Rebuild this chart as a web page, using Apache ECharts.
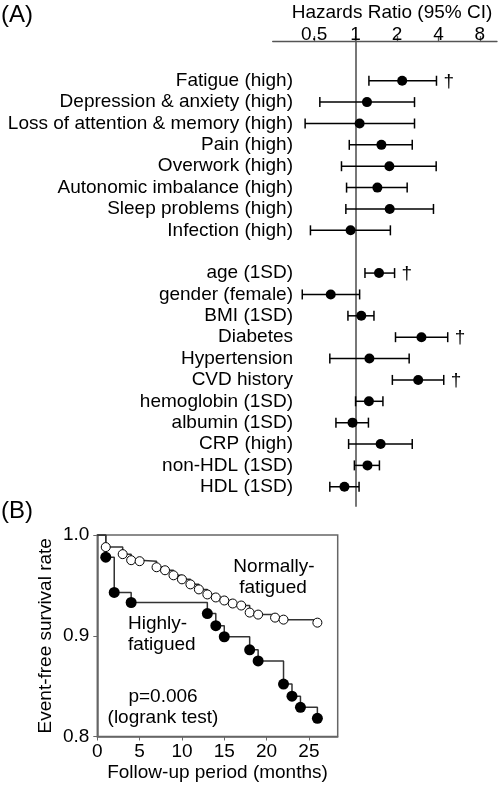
<!DOCTYPE html>
<html><head><meta charset="utf-8">
<script src="https://cdn.jsdelivr.net/npm/echarts@6/dist/echarts.min.js"></script>
<style>html,body{margin:0;padding:0;background:#fff}#c{width:500px;height:785px}</style>
</head><body><div id="c"></div>
<script>
// ---- Panel A: hazards ratios ----
const factors = ['Fatigue (high)','Depression & anxiety (high)','Loss of attention & memory (high)','Pain (high)','Overwork (high)','Autonomic imbalance (high)','Sleep problems (high)','Infection (high)','','age (1SD)','gender (female)','BMI (1SD)','Diabetes','Hypertension','CVD history','hemoglobin (1SD)','albumin (1SD)','CRP (high)','non-HDL (1SD)','HDL (1SD)'];
const hrPoint = [2.18,1.21,1.07,1.54,1.76,1.44,1.77,0.92,null,1.48,0.66,1.10,3.01,1.26,2.85,1.25,0.95,1.52,1.22,0.83];
const hrLower = [1.25,0.55,0.43,0.90,0.79,0.86,0.85,0.47,null,1.17,0.41,0.88,1.95,0.65,1.85,1.00,0.72,0.89,0.98,0.65];
const hrUpper = [3.87,2.68,2.68,2.58,3.85,2.37,3.68,1.79,null,1.92,1.07,1.36,4.67,2.45,4.37,1.58,1.24,2.58,1.49,1.06];
const significance = ['†','','','','','','','','','†','','','†','','†','','','','',''];
const hrTicks = [0.5,1,2,4,8];
const hrAxisMin = 0.25, hrAxisMax = 10.65;

// ---- Panel B: Kaplan-Meier ----
const normalMonths = [0,1,3,4,5,7,8,9,10,11,12,13,14,15,16,17,18,19,21,22,26];
const normalSurvival = [1.0,0.988,0.981,0.975,0.974,0.968,0.965,0.960,0.956,0.951,0.946,0.941,0.938,0.935,0.932,0.930,0.923,0.921,0.918,0.916,0.913];
const highMonths = [0,1,2,4,13,14,15,18,19,22,23,24,26];
const highSurvival = [1.0,0.978,0.943,0.933,0.922,0.910,0.899,0.886,0.875,0.852,0.840,0.829,0.818];
const monthTicks = [0,5,10,15,20,25];

const FONT = '"Liberation Sans", Arial, Helvetica, sans-serif';
const chart = echarts.init(document.getElementById('c'), null, {renderer:'canvas'});

const rowIdx = factors.map((f,i)=>i).filter(i=>hrPoint[i]!=null);
const barData = rowIdx.map(i=>[i, Math.log2(hrLower[i]), Math.log2(hrUpper[i])]);
const pointData = rowIdx.map(i=>[Math.log2(hrPoint[i]), i]);

function kmData(ms, ss){
  return ms.map((m,i)=> i===0 ? {value:[m,ss[i]], symbol:'none'} : [m,ss[i]]);
}

const option = {
  animation:false,
  textStyle:{fontFamily:FONT},
  grid:[
    {left:272.7, right:3, top:41, bottom:279, containLabel:false, outerBoundsMode:'none'},
    {left:97.3, right:162.3, top:535, bottom:48.5, show:true, borderColor:'#666', borderWidth:1.5, containLabel:false, outerBoundsMode:'none'}
  ],
  xAxis:[
    {type:'value', gridIndex:0, position:'top', min:Math.log2(hrAxisMin), max:Math.log2(hrAxisMax),
     axisLine:{onZero:false, lineStyle:{color:'#555', width:1.3}},
     axisTick:{customValues:hrTicks.map(Math.log2), length:5, lineStyle:{color:'#555', width:1.3}},
     axisLabel:{customValues:hrTicks.map(Math.log2), formatter:v=>String(+Math.pow(2,v).toFixed(2)), fontSize:19, color:'#000', margin:-3, fontFamily:FONT},
     splitLine:{show:false}},
    {type:'value', gridIndex:1, min:0, max:28.4,
     axisLine:{onZero:false, lineStyle:{color:'#666', width:1.5}},
     axisTick:{customValues:monthTicks, length:4, lineStyle:{color:'#666'}},
     axisLabel:{customValues:monthTicks, fontSize:19, color:'#000', margin:6, fontFamily:FONT},
     splitLine:{show:false},
     name:'Follow-up period (months)', nameLocation:'middle', nameGap:27,
     nameTextStyle:{fontSize:19, color:'#000', fontFamily:FONT}}
  ],
  yAxis:[
    {type:'value', gridIndex:0, inverse:true, min:-1.86, max:19.9,
     axisLine:{show:true, onZero:true, lineStyle:{color:'#777', width:2}},
     axisTick:{show:false},
     axisLabel:{customValues:rowIdx, formatter:v=>factors[Math.round(v)], fontSize:19, color:'#000', margin:-20.3, fontFamily:FONT},
     splitLine:{show:false}},
    {type:'value', gridIndex:1, min:0.8, max:1.0, interval:0.1,
     axisLine:{show:true, onZero:false, lineStyle:{color:'#666', width:1.5}},
     axisTick:{show:true, length:4, lineStyle:{color:'#666'}},
     axisLabel:{formatter:v=>v.toFixed(1), fontSize:19, color:'#000', margin:8, fontFamily:FONT},
     splitLine:{show:false},
     name:'Event-free survival rate', nameLocation:'middle', nameGap:42,
     nameTextStyle:{fontSize:19, color:'#000', fontFamily:FONT}}
  ],
  series:[
    {type:'custom', xAxisIndex:0, yAxisIndex:0, data:barData, encode:{x:[1,2], y:0},
     renderItem:function(params, api){
       const row = api.value(0);
       const p1 = api.coord([api.value(1), row]);
       const p2 = api.coord([api.value(2), row]);
       const h = 5, st = {stroke:'#000', lineWidth:1.5};
       const ch = [
         {type:'line', shape:{x1:p1[0],y1:p1[1],x2:p2[0],y2:p2[1]}, style:st},
         {type:'line', shape:{x1:p1[0],y1:p1[1]-h,x2:p1[0],y2:p1[1]+h}, style:st},
         {type:'line', shape:{x1:p2[0],y1:p2[1]-h,x2:p2[0],y2:p2[1]+h}, style:st}
       ];
       const s = significance[row];
       if (s) ch.push({type:'text', x:p2[0]+7, y:p2[1]+1, style:{text:s, fontSize:19, fill:'#000', align:'left', verticalAlign:'middle', fontFamily:FONT}});
       return {type:'group', children:ch};
     }},
    {type:'scatter', xAxisIndex:0, yAxisIndex:0, data:pointData, symbol:'circle', symbolSize:10,
     itemStyle:{color:'#000', opacity:1}, z:5},
    {type:'line', xAxisIndex:1, yAxisIndex:1, step:'end', data:kmData(highMonths, highSurvival),
     symbol:'circle', symbolSize:11, itemStyle:{color:'#000', opacity:1}, lineStyle:{color:'#333', width:1.5}},
    {type:'line', xAxisIndex:1, yAxisIndex:1, step:'end', data:kmData(normalMonths, normalSurvival),
     symbol:'circle', symbolSize:9, itemStyle:{color:'#fff', borderColor:'#000', borderWidth:1, opacity:1},
     lineStyle:{color:'#333', width:1.5}}
  ],
  graphic:[
    {type:'text', left:1, top:3, style:{text:'(A)', fontSize:24, fill:'#000', fontFamily:FONT}},
    {type:'text', left:1, top:499, style:{text:'(B)', fontSize:24, fill:'#000', fontFamily:FONT}},
    {type:'text', x:392, y:13, style:{text:'Hazards Ratio (95% CI)', fontSize:19, fill:'#000', align:'center', verticalAlign:'middle', fontFamily:FONT}},
    {type:'text', x:274, y:567, style:{text:'Normally-', fontSize:19, fill:'#000', align:'center', verticalAlign:'middle', fontFamily:FONT}},
    {type:'text', x:273, y:588, style:{text:'fatigued', fontSize:19, fill:'#000', align:'center', verticalAlign:'middle', fontFamily:FONT}},
    {type:'text', x:128, y:624, style:{text:'Highly-', fontSize:19, fill:'#000', align:'left', verticalAlign:'middle', fontFamily:FONT}},
    {type:'text', x:128, y:645, style:{text:'fatigued', fontSize:19, fill:'#000', align:'left', verticalAlign:'middle', fontFamily:FONT}},
    {type:'text', x:163, y:697, style:{text:'p=0.006', fontSize:19, fill:'#000', align:'center', verticalAlign:'middle', fontFamily:FONT}},
    {type:'text', x:163, y:718, style:{text:'(logrank test)', fontSize:19, fill:'#000', align:'center', verticalAlign:'middle', fontFamily:FONT}}
  ]
};
chart.setOption(option);
</script>
</body></html>
